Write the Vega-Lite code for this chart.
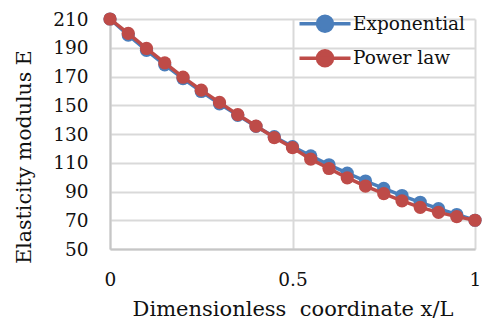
{
  "$schema": "https://vega.github.io/schema/vega-lite/v6.json",
  "width": 365,
  "height": 230,
  "autosize": {"type": "none"},
  "padding": {"left": 110, "top": 19, "right": 8, "bottom": 76},
  "background": "white",
  "config": {
    "view": {"stroke": null},
    "font": "DejaVu Serif",
    "axis": {
      "labelFont": "DejaVu Serif",
      "titleFont": "DejaVu Serif",
      "labelFontSize": 18.5,
      "titleFontSize": 20.5,
      "labelColor": "#111111",
      "titleColor": "#111111",
      "titleFontWeight": "normal",
      "ticks": false,
      "gridColor": "#d9d9d9",
      "gridWidth": 2,
      "domainColor": "#c6c6c6",
      "domainWidth": 2
    },
    "legend": {
      "labelFont": "DejaVu Serif",
      "labelFontSize": 18.5,
      "labelColor": "#111111"
    }
  },
  "data": {
    "values": [
      {"x": 0, "E": 210, "series": "Exponential"},
      {"x": 0.05, "E": 198.8, "series": "Exponential"},
      {"x": 0.1, "E": 188.2, "series": "Exponential"},
      {"x": 0.15, "E": 178.1, "series": "Exponential"},
      {"x": 0.2, "E": 168.6, "series": "Exponential"},
      {"x": 0.25, "E": 159.6, "series": "Exponential"},
      {"x": 0.3, "E": 151.0, "series": "Exponential"},
      {"x": 0.35, "E": 143.0, "series": "Exponential"},
      {"x": 0.4, "E": 135.3, "series": "Exponential"},
      {"x": 0.45, "E": 128.1, "series": "Exponential"},
      {"x": 0.5, "E": 121.2, "series": "Exponential"},
      {"x": 0.55, "E": 114.8, "series": "Exponential"},
      {"x": 0.6, "E": 108.6, "series": "Exponential"},
      {"x": 0.65, "E": 102.8, "series": "Exponential"},
      {"x": 0.7, "E": 97.3, "series": "Exponential"},
      {"x": 0.75, "E": 92.1, "series": "Exponential"},
      {"x": 0.8, "E": 87.2, "series": "Exponential"},
      {"x": 0.85, "E": 82.5, "series": "Exponential"},
      {"x": 0.9, "E": 78.1, "series": "Exponential"},
      {"x": 0.95, "E": 74.0, "series": "Exponential"},
      {"x": 1, "E": 70, "series": "Exponential"},
      {"x": 0, "E": 210, "series": "Power law"},
      {"x": 0.05, "E": 200, "series": "Power law"},
      {"x": 0.1, "E": 189.5, "series": "Power law"},
      {"x": 0.15, "E": 179.5, "series": "Power law"},
      {"x": 0.2, "E": 169.5, "series": "Power law"},
      {"x": 0.25, "E": 160.5, "series": "Power law"},
      {"x": 0.3, "E": 152, "series": "Power law"},
      {"x": 0.35, "E": 143.5, "series": "Power law"},
      {"x": 0.4, "E": 135.5, "series": "Power law"},
      {"x": 0.45, "E": 127.5, "series": "Power law"},
      {"x": 0.5, "E": 120.5, "series": "Power law"},
      {"x": 0.55, "E": 112.5, "series": "Power law"},
      {"x": 0.6, "E": 106, "series": "Power law"},
      {"x": 0.65, "E": 99.5, "series": "Power law"},
      {"x": 0.7, "E": 93.8, "series": "Power law"},
      {"x": 0.75, "E": 88.5, "series": "Power law"},
      {"x": 0.8, "E": 83.5, "series": "Power law"},
      {"x": 0.85, "E": 79, "series": "Power law"},
      {"x": 0.9, "E": 75.5, "series": "Power law"},
      {"x": 0.95, "E": 72.5, "series": "Power law"},
      {"x": 1, "E": 70, "series": "Power law"}
    ]
  },
  "encoding": {
    "x": {
      "field": "x",
      "type": "quantitative",
      "scale": {"domain": [0, 1], "nice": false, "zero": false},
      "axis": {
        "values": [0, 0.5, 1],
        "labelExpr": "format(datum.value, '~g')",
        "title": "Dimensionless\u00a0 coordinate x/L",
        "titleFontSize": 21,
        "labelPadding": 21,
        "titlePadding": 10,
        "labelFlush": false
      }
    },
    "y": {
      "field": "E",
      "type": "quantitative",
      "scale": {"domain": [50, 210], "nice": false, "zero": false},
      "axis": {
        "values": [50, 70, 90, 110, 130, 150, 170, 190, 210],
        "title": "Elasticity modulus E",
        "labelPadding": 22,
        "titlePadding": 18,
        "titleY": 137.5
      }
    },
    "color": {
      "field": "series",
      "type": "nominal",
      "scale": {"domain": ["Exponential", "Power law"], "range": ["#4A7EBB", "#BE4B48"]},
      "legend": {
        "title": null,
        "orient": "none",
        "legendX": 203,
        "legendY": -7.3,
        "padding": 0,
        "symbolType": "M-2.55,0H2.55M0.75,0A0.75,0.75 0 1,1 -0.75,0A0.75,0.75 0 1,1 0.75,0Z",
        "symbolSize": 400,
        "symbolStrokeWidth": 3.5,
        "labelOffset": 16,
        "rowPadding": 4.6,
        "encode": {
          "symbols": {
            "update": {
              "fill": {"scale": "color", "field": "value"},
              "fillOpacity": {"value": 1},
              "opacity": {"value": 1}
            }
          }
        }
      }
    }
  },
  "layer": [
    {
      "transform": [{"filter": "datum.series === 'Exponential'"}],
      "mark": {"type": "line", "strokeWidth": 3.5, "point": {"filled": true, "size": 175, "opacity": 1}}
    },
    {
      "transform": [{"filter": "datum.series === 'Power law'"}],
      "mark": {"type": "line", "strokeWidth": 3.5, "point": {"filled": true, "size": 175, "opacity": 1}}
    }
  ]
}
